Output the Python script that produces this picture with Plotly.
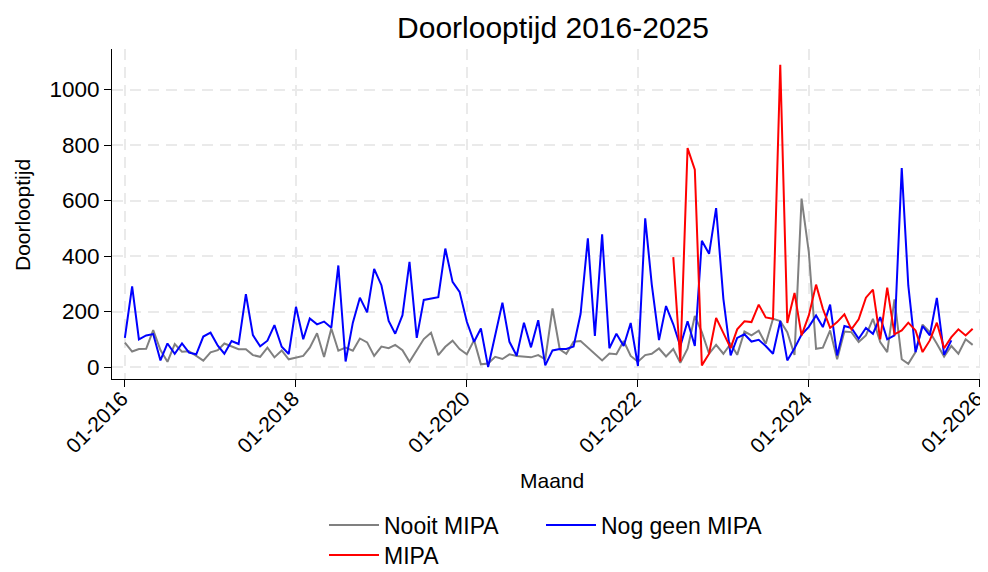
import pandas as pd
import plotly.graph_objects as go

# Months (categories): Jan 2016 .. Dec 2025
months = pd.date_range("2016-01-01", periods=120, freq="MS")

nooit_mipa = [
    88, 56, 65, 66, 133, 61, 19, 83, 55, 57, 40, 23, 53, 61, 85, 73, 64, 64, 43, 37,
    70, 35, 60, 28, 34, 40, 70, 122, 36, 139, 59, 70, 59, 103, 89, 40, 74, 68, 80,
    61, 19, 61, 101, 124, 43, 73, 95, 65, 46, 97, 10, 13, 37, 29, 46, 40, 37, 35, 43,
    28, 211, 64, 48, 91, 94, 70, 48, 24, 49, 46, 94, 40, 19, 43, 48, 67, 38, 65, 15,
    66, 184, 126, 48, 80, 48, 84, 44, 128, 114, 131, 84, 174, 166, 126, 44, 607, 414, 66,
    70, 132, 28, 128, 126, 90, 114, 174, 90, 54, 244, 28, 12, 54, 153, 126, 84, 38, 76, 48, 100, 80,
]

nog_geen_mipa = [
    105, 291, 100, 114, 119, 24, 85, 48, 85, 52, 46, 110, 124, 77, 48, 94, 83, 263, 115, 75,
    95, 151, 73, 47, 217, 100, 175, 154, 164, 142, 366, 20, 160, 250, 197, 354, 295, 166, 120,
    187, 379, 105, 242, 247, 252, 427, 307, 271, 163, 91, 139, 0, 115, 232, 91, 41, 160, 71, 169,
    6, 60, 65, 65, 74, 192, 464, 112, 478, 68, 120, 76, 159, 4, 536, 298, 97, 220, 154, 75,
    165, 76, 455, 408, 573, 246, 42, 105, 118, 92, 98, 76, 48, 166, 24, 68, 117, 145, 186,
    144, 225, 42, 148, 141, 102, 141, 120, 180, 100, 114, 717, 294, 54, 148, 114, 249, 44, 96,
]

mipa_start = 77  # June 2022
mipa = [
    396, 20, 789, 711, 6, 48, 177, 124, 68, 136, 165, 162, 225, 179, 174, 1089, 159, 267, 114, 186, 297,
    210, 141, 162, 190, 136, 172, 250, 279, 100, 286, 118, 132, 160, 132, 54, 96, 160, 68, 108, 136, 114, 138,
]

y_ticks = [0, 200, 400, 600, 800, 1000]
x_ticks = pd.to_datetime(["2016-01-01", "2018-01-01", "2020-01-01", "2022-01-01", "2024-01-01", "2026-01-01"])
x_ticktext = ["01-2016", "01-2018", "01-2020", "01-2022", "01-2024", "01-2026"]

FONT = "Liberation Sans, Arial, sans-serif"
GRID = "#EAEAEA"

# page body has an 8px margin, so figure coords = screen coords - 8
OFF = 8
W, H = 988 - OFF, 572 - OFF
L, R, T, B = 112 - OFF, 986 - OFF, 49 - OFF, 379 - OFF
PW, PH = R - L, B - T


def px(x):
    return (x - OFF - L) / PW


def py(y):
    return (B - (y - OFF)) / PH


fig = go.Figure()
fig.add_trace(go.Scatter(x=months[:len(nooit_mipa)], y=nooit_mipa, mode="lines", name="Nooit MIPA",
                         line=dict(color="#808080", width=2), legend="legend", showlegend=True))
fig.add_trace(go.Scatter(x=months[:len(nog_geen_mipa)], y=nog_geen_mipa, mode="lines", name="Nog geen MIPA",
                         line=dict(color="#0000FF", width=2), legend="legend3", showlegend=True))
fig.add_trace(go.Scatter(x=months[mipa_start:mipa_start + len(mipa)], y=mipa, mode="lines", name="MIPA",
                         line=dict(color="#FF0000", width=2), legend="legend2", showlegend=True))

leg = dict(orientation="h", xanchor="left", yanchor="middle",
           font=dict(size=23), itemwidth=50, bgcolor="rgba(0,0,0,0)")

fig.update_layout(
    width=W, height=H,
    showlegend=True,
    margin=dict(l=L, r=W - R, t=T, b=H - B, autoexpand=False),
    paper_bgcolor="white", plot_bgcolor="white",
    font=dict(family=FONT, color="black", size=21),
    title=dict(text="Doorlooptijd 2016-2025", x=(553 - OFF) / W, xanchor="center", xref="container",
               y=1 - (27 - OFF) / H, yanchor="middle", yref="container", automargin=False,
               font=dict(size=30, family=FONT, color="black")),
    xaxis=dict(
        type="date", range=["2015-11-07", "2026-01-27"], automargin=False,
        tickvals=x_ticks, ticktext=x_ticktext, tickangle=-45, ticklabeloverflow="allow",
        ticklabelstandoff=-9, ticklabelshift=-3,
        ticks="outside", ticklen=7, tickcolor="black", tickwidth=1,
        showline=True, linecolor="black", linewidth=1,
        showgrid=True, gridcolor=GRID, gridwidth=2, griddash="11px,7px",
        zeroline=False, tickfont=dict(size=21),
    ),
    yaxis=dict(
        range=[-43, 1146], tickvals=y_ticks, automargin=False,
        ticks="outside", ticklen=7, tickcolor="black", tickwidth=1,
        showline=True, linecolor="black", linewidth=1,
        showgrid=True, gridcolor=GRID, gridwidth=2, griddash="11px,7px",
        zeroline=False, tickfont=dict(size=22.5),
    ),
    legend=dict(leg, x=px(324), y=py(525)),
    legend3=dict(leg, x=px(541), y=py(525)),
    legend2=dict(leg, x=px(324), y=py(555)),
    annotations=[
        dict(text="Maand", xref="paper", yref="paper", x=px(552), y=py(480),
             xanchor="center", yanchor="middle", showarrow=False, font=dict(size=21)),
        dict(text="Doorlooptijd", xref="paper", yref="paper", x=px(22), y=py(215),
             xanchor="center", yanchor="middle", textangle=-90, showarrow=False, font=dict(size=21)),
    ],
)

fig.write_html("out.html")
